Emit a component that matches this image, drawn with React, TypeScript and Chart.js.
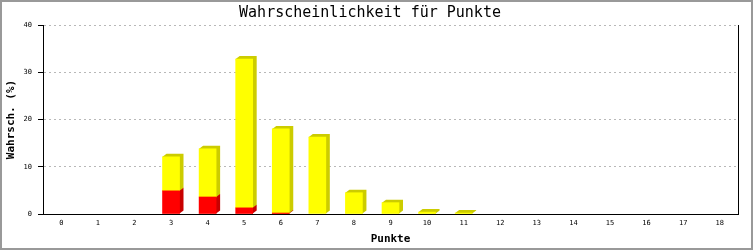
import { useEffect, useRef } from 'react';
import { Chart, registerables } from 'chart.js';

Chart.register(...registerables);

const categories = ['0', '1', '2', '3', '4', '5', '6', '7', '8', '9', '10', '11', '12', '13', '14', '15', '16', '17', '18'];
const redValues = [0, 0, 0, 4.9, 3.6, 1.3, 0.2, 0, 0, 0, 0, 0, 0, 0, 0, 0, 0, 0, 0];
const yellowValues = [0, 0, 0, 7.2, 10.2, 31.5, 17.8, 16.3, 4.5, 2.4, 0.4, 0.2, 0, 0, 0, 0, 0, 0, 0];
const yTicks = [0, 10, 20, 30, 40];

const titleText = 'Wahrscheinlichkeit für Punkte';
const yTitle = 'Wahrsch. (%)';
const xTitle = 'Punkte';

const DX = 4;
const DY = 3;
const MONO = '"DejaVu Sans Mono", monospace';

const hideZero = (arr: number[]) => arr.map((v) => (v === 0 ? null : v));

const depthPlugin = {
  id: 'depth3d',
  beforeDatasetsDraw(chart: any) {
    const ctx = chart.ctx;
    chart.data.datasets.forEach((ds: any, i: number) => {
      const meta = chart.getDatasetMeta(i);
      meta.data.forEach((bar: any, j: number) => {
        const v = ds.data[j];
        if (!v) return;
        const p = bar.getProps(['x', 'y', 'base', 'width'], true);
        const left = p.x - p.width / 2;
        const right = p.x + p.width / 2;
        const top = Math.min(p.y, p.base);
        const bottom = Math.max(p.y, p.base);
        ctx.save();
        ctx.fillStyle = ds.sideColor;
        ctx.beginPath();
        ctx.moveTo(left, top);
        ctx.lineTo(left + DX, top - DY);
        ctx.lineTo(right + DX, top - DY);
        ctx.lineTo(right + DX, bottom - DY);
        ctx.lineTo(right, bottom);
        ctx.closePath();
        ctx.fill();
        ctx.restore();
      });
    });
  },
};

const framePlugin = {
  id: 'frame',
  beforeDraw(chart: any) {
    const ctx = chart.ctx;
    ctx.save();
    ctx.fillStyle = '#ffffff';
    ctx.fillRect(0, 0, chart.width, chart.height);
    ctx.restore();
  },
  afterDraw(chart: any) {
    const ctx = chart.ctx;
    const a = chart.chartArea;
    ctx.save();
    ctx.strokeStyle = '#000000';
    ctx.lineWidth = 1;
    ctx.beginPath();
    ctx.moveTo(Math.round(a.right) + 0.5, a.top);
    ctx.lineTo(Math.round(a.right) + 0.5, a.bottom);
    ctx.stroke();
    ctx.strokeStyle = '#999999';
    ctx.lineWidth = 2;
    ctx.strokeRect(1, 1, chart.width - 2, chart.height - 2);
    ctx.restore();
  },
};

export default function App() {
  const ref = useRef<HTMLCanvasElement>(null);

  useEffect(() => {
    if (!ref.current) return;
    const chart = new Chart(ref.current, {
      type: 'bar',
      data: {
        labels: categories,
        datasets: [
          {
            label: 'rot',
            data: hideZero(redValues),
            backgroundColor: '#ff0000',
            sideColor: '#c80000',
            barThickness: 17,
          } as any,
          {
            label: 'gelb',
            data: hideZero(yellowValues),
            backgroundColor: '#ffff00',
            sideColor: '#cccc00',
            barThickness: 17,
          } as any,
        ],
      },
      options: {
        responsive: false,
        animation: false,
        devicePixelRatio: 1,
        layout: { padding: { left: 2, right: 15, top: 0, bottom: 2 } },
        plugins: {
          legend: { display: false },
          tooltip: { enabled: false },
          title: {
            display: true,
            text: titleText,
            color: '#000',
            font: { family: MONO, size: 15, weight: 'normal' },
            padding: { top: 4, bottom: 3 },
          },
        },
        scales: {
          x: {
            stacked: true,
            afterFit: (s: any) => {
              s.height = 34;
            },
            grid: { display: false, drawTicks: false },
            border: { display: true, color: '#000', width: 1 },
            ticks: {
              color: '#000',
              font: { family: MONO, size: 7 },
              padding: 5,
              maxRotation: 0,
              autoSkip: false,
            },
            title: {
              display: true,
              text: xTitle,
              color: '#000',
              font: { family: MONO, size: 11, weight: 'bold' },
              padding: { top: 0, bottom: 2 },
            },
          },
          y: {
            stacked: true,
            min: 0,
            max: 40,
            afterFit: (s: any) => {
              s.width = 41;
            },
            afterBuildTicks: (s: any) => {
              s.ticks = yTicks.map((v) => ({ value: v }));
            },
            grid: {
              color: (c: any) => (c.tick && c.tick.value === 0 ? 'rgba(0,0,0,0)' : '#b8b8b8'),
              tickColor: '#000',
              tickBorderDash: [],
              tickLength: 5,
              drawTicks: true,
            },
            border: { display: true, color: '#000', width: 1, dash: [2, 3] },
            ticks: {
              color: '#000',
              font: { family: MONO, size: 7 },
              padding: 6,
            },
            title: {
              display: true,
              text: yTitle,
              color: '#000',
              font: { family: MONO, size: 11, weight: 'bold' },
              padding: { top: 3, bottom: 0 },
            },
          },
        },
      } as any,
      plugins: [depthPlugin, framePlugin],
    });
    return () => chart.destroy();
  }, []);

  return (
    <div style={{ position: 'absolute', left: 0, top: 0, width: 753, height: 250 }}>
      <canvas ref={ref} width={753} height={250} style={{ display: 'block' }} />
    </div>
  );
}
